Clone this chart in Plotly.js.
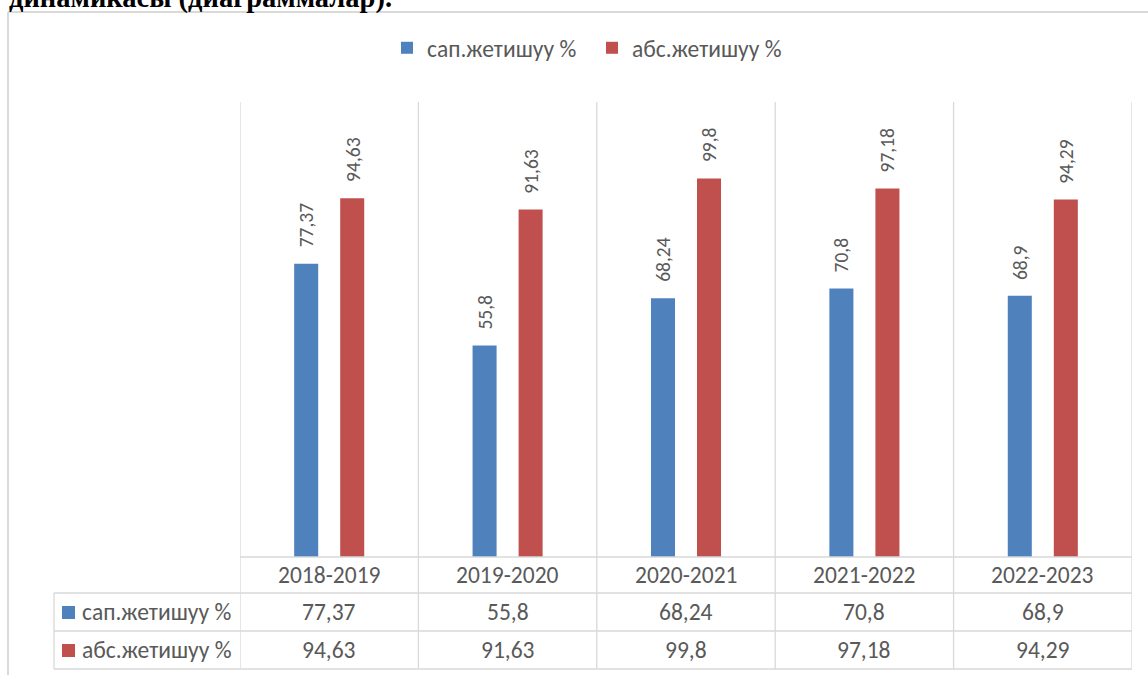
<!DOCTYPE html>
<html>
<head>
<meta charset="utf-8">
<script src="https://cdn.plot.ly/plotly-3.0.1.min.js"></script>
<style>html,body{margin:0;padding:0;background:#fff;}#chart{width:1148px;height:675px;}</style>
</head>
<body>
<div id="chart"></div>
<script>
const categories = ['2018-2019', '2019-2020', '2020-2021', '2021-2022', '2022-2023'];
const seriesNames = ['сап.жетишуу %', 'абс.жетишуу %'];
const sapValues = [77.37, 55.8, 68.24, 70.8, 68.9];
const absValues = [94.63, 91.63, 99.8, 97.18, 94.29];
const headingText = 'динамикасы (диаграммалар).';

const W = 1148, H = 675;
const plotL = 240, plotR = 1132, plotT = 102, plotB = 557;
const pw = plotR - plotL, ph = plotB - plotT;
const px = v => (v - plotL) / pw;
const py = v => (plotB - v) / ph;

const FONT = 'Carlito, Lato, "Noto Sans", sans-serif';
const GREY = '#595959';
const LINE = '#d9d9d9';
const BLUE = '#4f81bd';
const RED = '#c0504d';
const fmt = v => String(v).replace('.', ',');

const traces = [
  {type: 'bar', name: seriesNames[0], x: categories, y: sapValues, marker: {color: BLUE}, hoverinfo: 'none'},
  {type: 'bar', name: seriesNames[1], x: categories, y: absValues, marker: {color: RED}, hoverinfo: 'none'}
];

const shapes = [];
const annotations = [];

// chart border (left + top)
shapes.push({type: 'line', xref: 'paper', yref: 'paper', x0: px(8), x1: px(8), y0: py(12), y1: py(700), line: {color: LINE, width: 2}});
shapes.push({type: 'line', xref: 'paper', yref: 'paper', x0: px(8), x1: px(1160), y0: py(12), y1: py(12), line: {color: LINE, width: 2}});

// category separators through plot and table
for (let i = 0; i <= categories.length; i++) {
  shapes.push({type: 'line', xref: 'x', yref: 'paper', x0: i - 0.5, x1: i - 0.5, y0: py(plotT), y1: py(669), line: {color: LINE, width: 1.3}});
}
// table left column vertical line
shapes.push({type: 'line', xref: 'paper', yref: 'paper', x0: px(54), x1: px(54), y0: py(593), y1: py(669), line: {color: LINE, width: 1.3}});
// horizontal table lines
shapes.push({type: 'line', xref: 'paper', yref: 'paper', x0: 0, x1: 1, y0: 0, y1: 0, line: {color: LINE, width: 1.3}});
[593, 631, 669].forEach(yy => {
  shapes.push({type: 'line', xref: 'paper', yref: 'paper', x0: px(54), x1: 1, y0: py(yy), y1: py(yy), line: {color: LINE, width: 1.3}});
});

// table header row (categories) and value rows
const rowY = [py(575), py(612), py(650)];
const tfont = {family: FONT, size: 23.5, color: GREY};
categories.forEach((c, i) => {
  annotations.push({xref: 'x', yref: 'paper', x: c, y: rowY[0], yanchor: 'middle', xanchor: 'center', text: c, showarrow: false, font: tfont});
  annotations.push({xref: 'x', yref: 'paper', x: c, y: rowY[1], yanchor: 'middle', xanchor: 'center', text: fmt(sapValues[i]), showarrow: false, font: tfont});
  annotations.push({xref: 'x', yref: 'paper', x: c, y: rowY[2], yanchor: 'middle', xanchor: 'center', text: fmt(absValues[i]), showarrow: false, font: tfont});
});
// table legend keys
[[BLUE, 612, seriesNames[0]], [RED, 650, seriesNames[1]]].forEach(([col, yy, name]) => {
  shapes.push({type: 'rect', xref: 'paper', yref: 'paper', x0: px(62), x1: px(75), y0: py(yy - 6), y1: py(yy + 7), fillcolor: col, line: {width: 0}});
  annotations.push({xref: 'paper', yref: 'paper', x: px(80), y: py(yy), xanchor: 'left', yanchor: 'middle', text: name, showarrow: false, font: {family: FONT, size: 23.5, color: GREY}});
});

// rotated data labels above bars
const off = 23 / (pw / categories.length);
[[sapValues, -off], [absValues, off]].forEach(([vals, dx]) => {
  vals.forEach((v, i) => {
    annotations.push({xref: 'x', yref: 'y', x: i + dx, y: v, yanchor: 'bottom', yshift: 14, textangle: -90,
      text: fmt(v), showarrow: false, font: {family: FONT, size: 19.5, color: GREY}});
  });
});

// heading fragment at top (cut off, as in the source)
annotations.push({xref: 'paper', yref: 'paper', x: px(7), y: py(16), xanchor: 'left', yanchor: 'bottom', text: '<b>' + headingText + '</b>', showarrow: false,
  font: {family: '"Liberation Serif", "Times New Roman", serif', size: 28.5, color: '#000'}});

const layout = {
  width: W, height: H,
  margin: {l: plotL, r: W - plotR, t: plotT, b: H - plotB, pad: 0},
  paper_bgcolor: '#fff', plot_bgcolor: '#fff',
  barmode: 'group', bargap: 0.484, bargroupgap: 0.478,
  showlegend: true,
  legend: {orientation: 'h', x: px(592), xanchor: 'center', y: py(48), yanchor: 'middle', entrywidth: 160, entrywidthmode: 'pixels',
    font: {family: FONT, size: 23.5, color: GREY}, bgcolor: 'rgba(0,0,0,0)'},
  xaxis: {type: 'category', showticklabels: false, showgrid: false, zeroline: false, showline: false, ticks: '', range: [-0.5, categories.length - 0.5]},
  yaxis: {range: [0, 120], visible: false, showgrid: false, zeroline: false},
  shapes: shapes,
  annotations: annotations
};

Plotly.newPlot('chart', traces, layout, {displayModeBar: false, staticPlot: true});
</script>
</body>
</html>
